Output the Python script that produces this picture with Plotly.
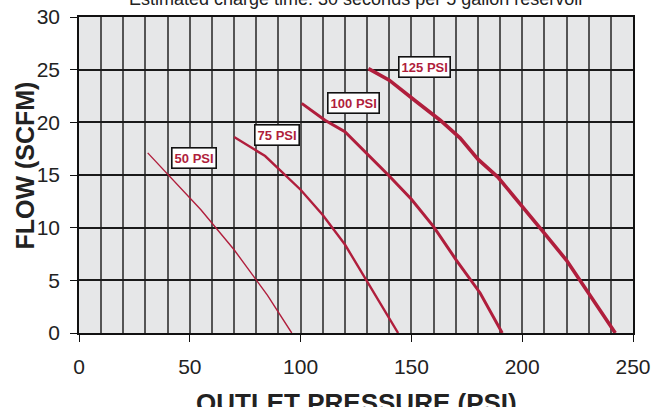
import plotly.graph_objects as go

# curve data (outlet pressure PSI, flow SCFM)
p50 = [31, 43, 55, 70, 85, 96]
f50 = [17.1, 14.4, 11.7, 7.9, 3.6, 0.0]

p75 = [70, 84, 100, 110, 120, 130, 144]
f75 = [18.6, 16.8, 13.6, 11.2, 8.4, 4.9, 0.0]

p100 = [100.5, 111, 120, 130, 140, 150, 160, 170, 181, 191]
f100 = [21.8, 20.2, 19.1, 17.0, 14.9, 12.7, 10.1, 7.0, 3.8, 0.0]

p125 = [130.6, 140, 152, 163, 172, 180, 189, 199, 209.5, 220, 230, 242]
f125 = [25.1, 24.0, 22.0, 20.2, 18.5, 16.5, 14.8, 12.3, 9.6, 6.9, 3.8, 0.0]

series_names = ["50 PSI", "75 PSI", "100 PSI", "125 PSI"]
label_x = [52.1, 89.4, 123.8, 155.9]
label_y = [16.6, 18.8, 21.8, 25.3]

RED = "#B01E3C"
FONT = "Liberation Sans, Arial, sans-serif"

fig = go.Figure()
curves = [(p50, f50, 1.4), (p75, f75, 2.4), (p100, f100, 3.0), (p125, f125, 3.6)]
for (px_, fy, w), name in zip(curves, series_names):
    fig.add_trace(go.Scatter(x=px_, y=fy, mode="lines", name=name,
                             line=dict(color=RED, width=w), showlegend=False))

for name, lx, ly in zip(series_names, label_x, label_y):
    fig.add_annotation(x=lx, y=ly, text=f"<b>{name}</b>", showarrow=False,
                       font=dict(family=FONT, size=13, color=RED),
                       bgcolor="white", bordercolor="#111", borderwidth=1.6,
                       borderpad=2)

fig.add_annotation(xref="paper", yref="paper", x=0.5, y=1.019, yanchor="bottom",
                   text="Estimated charge time: 30 seconds per 5 gallon reservoir",
                   showarrow=False, font=dict(family=FONT, size=18, color="#222"))
fig.add_annotation(xref="paper", yref="paper", x=0.5, y=-0.168, yanchor="top",
                   text="<b>OUTLET PRESSURE (PSI)</b>", showarrow=False,
                   font=dict(family=FONT, size=26, color="#222"))
fig.add_annotation(xref="paper", yref="paper", x=-0.128, y=0.53, textangle=-90,
                   text="<b>FLOW (SCFM)</b>", showarrow=False,
                   font=dict(family=FONT, size=25, color="#222"))

fig.update_layout(
    width=661, height=407,
    margin=dict(l=79, r=28, t=17, b=74, autoexpand=False),
    plot_bgcolor="#E6E7E8", paper_bgcolor="white",
    font=dict(family=FONT, size=21, color="#222"),
)
fig.update_xaxes(range=[0, 250], dtick=50, showgrid=True, gridcolor="#555555",
                 gridwidth=1.7, minor=dict(dtick=10, showgrid=True, gridcolor="#555555",
                                            gridwidth=1.7),
                 showline=True, linecolor="#111", linewidth=1.6, mirror=True,
                 ticks="outside", ticklen=7, tickcolor="#111", tickwidth=1.2,
                 ticklabelstandoff=7, zeroline=False, automargin=False)
fig.update_yaxes(range=[0, 30], dtick=5, showgrid=True, gridcolor="#1a1a1a",
                 gridwidth=1.6, showline=True, linecolor="#111", linewidth=1.6,
                 mirror=True, ticks="outside", ticklen=7, tickcolor="#111",
                 tickwidth=1.2, ticklabelstandoff=6, zeroline=False, automargin=False)

# drop the page's default body margin so the figure sits at the window origin
fig.write_html("out.html", config={"displayModeBar": False},
               post_script="document.body.style.margin='0';")
